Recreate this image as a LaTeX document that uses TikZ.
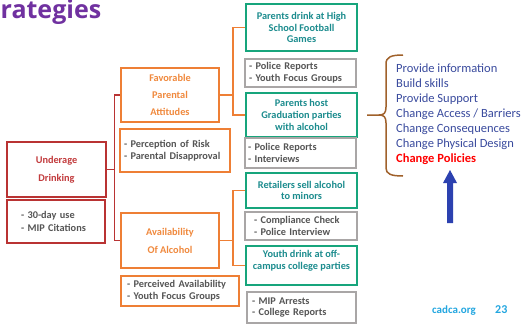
\documentclass[tikz,border=0pt]{standalone}
\usepackage{fontspec}
\setmainfont{Carlito}
\newfontfamily\titlefont{Open Sans}
\definecolor{cOrange}{HTML}{EE7F35}
\definecolor{cOrangeT}{HTML}{F0893D}
\definecolor{cRed}{HTML}{B93333}
\definecolor{cRedT}{HTML}{C23A3C}
\definecolor{cGreen}{HTML}{17A57C}
\definecolor{cTeal}{HTML}{1C8C8E}
\definecolor{cGray}{HTML}{A9A6A6}
\definecolor{cGrayT}{HTML}{555555}
\definecolor{cPurple}{HTML}{7031A0}
\definecolor{cList}{HTML}{3A4B9E}
\definecolor{cBrace}{HTML}{A0612B}
\definecolor{cArrow}{HTML}{2C41B0}
\definecolor{cCyan}{HTML}{22A6E0}
\tikzset{
  box/.style={draw, rectangle, inner sep=0pt, font=\bfseries\fontsize{10.3}{11.8}\selectfont},
  obox/.style={box, draw=cOrange, line width=2pt, text=cOrangeT, align=center, font=\bfseries\fontsize{10.3}{17}\selectfont},
  obullet/.style={box, draw=cOrange, line width=2pt, text=cGrayT, align=left},
  rbox/.style={box, draw=cRed, line width=2.3pt, text=cRedT, align=center, font=\bfseries\fontsize{10.3}{18}\selectfont},
  rbullet/.style={box, draw=cRed, line width=2.3pt, text=cGrayT, align=left, font=\bfseries\fontsize{10.3}{12.5}\selectfont},
  gbox/.style={box, draw=cGreen, line width=2.3pt, text=cTeal, align=center},
  graybox/.style={box, draw=cGray, line width=2.6pt, text=cGrayT, align=left},
  rline/.style={draw=cRed, line width=1.2pt},
  oline/.style={draw=cOrange, line width=1.2pt},
}
\begin{document}
\begin{tikzpicture}[x=1pt,y=-1pt]
\fill[white] (0,0) rectangle (522,324);
\useasboundingbox (0,0) rectangle (522,324);

% title
\node[anchor=base west, inner sep=0pt, text=cPurple, font=\titlefont\bfseries\fontsize{25}{30}\selectfont] (title) at (0.5,19) {rategies};

% left column
\node[rbox, minimum width=99pt, minimum height=55pt] (ud) at (56.5,169.5) {Underage\\Drinking};
\node[rbullet, minimum width=98pt, minimum height=43pt, text width=70pt, inner xsep=14pt] (ud2) at (56,221.5) {- 30-day use\\- MIP Citations};

% middle column
\node[obox, minimum width=98pt, minimum height=54pt] (fav) at (170,95) {Favorable\\Parental\\Attitudes};
\node[obullet, minimum width=110pt, minimum height=43pt, text width=102pt, inner xsep=4pt] (fav2) at (175,150.5) {- Perception of Risk\\- Parental Disapproval};
\node[obox, minimum width=98pt, minimum height=55pt, font=\bfseries\fontsize{10.3}{18}\selectfont] (av) at (170,240.5) {Availability\\Of Alcohol};
\node[obullet, minimum width=118pt, minimum height=30pt, text width=106pt, inner xsep=6pt] (av2) at (180,291) {- Perceived Availability\\- Youth Focus Groups};

% right column
\node[gbox, minimum width=111pt, minimum height=47pt] (g1) at (301.5,27.5) {Parents drink at High\\School Football\\Games};
\node[graybox, minimum width=111pt, minimum height=28pt, text width=103pt, inner xsep=4pt] (s1) at (300.5,73) {- Police Reports\\- Youth Focus Groups};
\node[gbox, minimum width=111pt, minimum height=44pt] (g2) at (301.5,115) {Parents host\\Graduation parties\\with alcohol};
\node[graybox, minimum width=111pt, minimum height=30pt, text width=105pt, inner xsep=3pt] (s2) at (300.5,153) {- Police Reports\\- Interviews};
\node[gbox, minimum width=111pt, minimum height=35pt] (g3) at (301.5,190.5) {Retailers sell alcohol\\to minors};
\node[graybox, minimum width=112pt, minimum height=28pt, text width=94pt, inner xsep=9pt] (s3) at (301,226) {- Compliance Check\\- Police Interview};
\node[gbox, minimum width=111pt, minimum height=39pt] (g4) at (301.5,265.5) {Youth drink at off-\\campus college parties\\\mbox{}};
\node[graybox, minimum width=109pt, minimum height=31pt, text width=99pt, inner xsep=5pt] (s4) at (301.5,307.5) {- MIP Arrests\\- College Reports};

% connectors
\draw[rline] (ud.east) -- ++(7,0) |- (fav.west);
\draw[rline] (ud.east) -- ++(7,0) |- (av.west);
\draw[oline] (fav.east) -- ++(13,0) |- (g1.west);
\draw[oline] (fav.east) -- ++(13,0) |- (g2.west);
\draw[oline] (av.east) -- ++(13,0) |- (g3.west);
\draw[oline] (av.east) -- ++(13,0) |- (g4.west);

% brace
\draw[cBrace, line width=1.5pt] (403,55) .. controls (391,55) and (386,57) .. (386,64) -- (386,107)
  .. controls (386,113) and (384,115) .. (379,115) -- (367,115);
\draw[cBrace, line width=1.5pt] (379,115) .. controls (384,115) and (386,117) .. (386,123) -- (386,168)
  .. controls (386,174) and (391,176) .. (403,176);

% strategy list
\node[anchor=north west, align=left, inner sep=0pt, text=cList, font=\fontsize{12.5}{15}\selectfont] (list) at (396,64)
 {Provide information\\Build skills\\Provide Support\\Change Access / Barriers\\Change Consequences\\Change Physical Design\\\textcolor{red}{\bfseries Change Policies}};

% blue arrow
\fill[cArrow] (447,223) -- (453,223) -- (453,183) -- (457,183) -- (450,170) -- (443,183) -- (447,183) -- cycle;

% footer
\node[anchor=base west, inner sep=0pt, text=cCyan, font=\bfseries\fontsize{11}{13}\selectfont] (web) at (432,313.5) {cadca.org};
\node[anchor=base west, inner sep=0pt, text=cCyan, font=\bfseries\fontsize{12}{14}\selectfont] (page) at (495,313.5) {23};
\end{tikzpicture}
\end{document}
